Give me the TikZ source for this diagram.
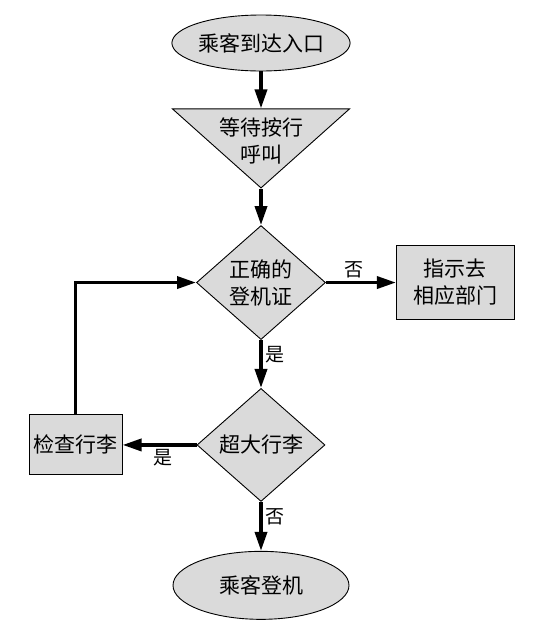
\documentclass[tikz,border=0pt]{standalone}
\usepackage{fontspec}
\setmainfont{Noto Sans CJK SC}
\usepackage{tikz}
\usetikzlibrary{shapes.geometric, arrows.meta, positioning}
\definecolor{shapegray}{RGB}{218,218,218}

\begin{document}
\begin{tikzpicture}[
    node distance=36pt,
    every node/.style={font=\fontsize{21}{27}\selectfont},
    endpoint/.style={ellipse, draw, fill=shapegray, line width=0.9pt, inner sep=0pt, minimum width=177pt, minimum height=56pt},
    waitbox/.style={isosceles triangle, isosceles triangle stretches, shape border rotate=-90, draw, fill=shapegray, line width=0.9pt, inner sep=0pt, minimum width=177pt, minimum height=79pt},
    decision/.style={diamond, draw, fill=shapegray, line width=0.9pt, inner sep=0pt, align=center, minimum width=129pt, minimum height=114pt},
    actionbox/.style={rectangle, draw, fill=shapegray, line width=0.9pt, inner sep=0pt, align=center},
    arrow/.style={-{Triangle[length=19pt, width=12pt]}, line width=3.5pt},
    answer/.style={font=\fontsize{19}{22}\selectfont, inner sep=3pt}
]

\useasboundingbox (0,0) rectangle (536pt,-622pt);

% Main column
\node[endpoint] (start) at (261pt,-43pt) {乘客到达入口};
\node[waitbox, below=37pt of start] (wait) {};
\node[align=center, inner sep=0pt, below=9pt of wait.north] (waittext) {等待按行\\呼叫};
\node[decision, below=36pt of wait] (valid) {正确的\\登机证};
\node[decision, below=48pt of valid, minimum width=128pt, minimum height=113pt] (oversize) {超大行李};
\node[endpoint, below=49pt of oversize, minimum width=176pt, minimum height=68pt] (board) {乘客登机};

% Side boxes
\node[actionbox, right=70pt of valid, minimum width=118pt, minimum height=74pt] (redirect) {指示去\\相应部门};
\node[actionbox, left=74pt of oversize, minimum width=93pt, minimum height=60pt] (inspect) {检查行李};

% Arrows
\draw[arrow] (start) -- (wait);
\draw[arrow] (wait.apex) -- (valid.north);
\draw[arrow] (valid) -- node[answer, above, pos=0.4] {否} (redirect);
\draw[arrow] (valid) -- node[answer, right, pos=0.3] {是} (oversize);
\draw[arrow] (oversize) -- node[answer, below, pos=0.46] {是} (inspect);
\draw[arrow] (oversize) -- node[answer, right, pos=0.3] {否} (board);
\draw[arrow] (inspect.north) |- (valid.west);

\end{tikzpicture}
\end{document}
